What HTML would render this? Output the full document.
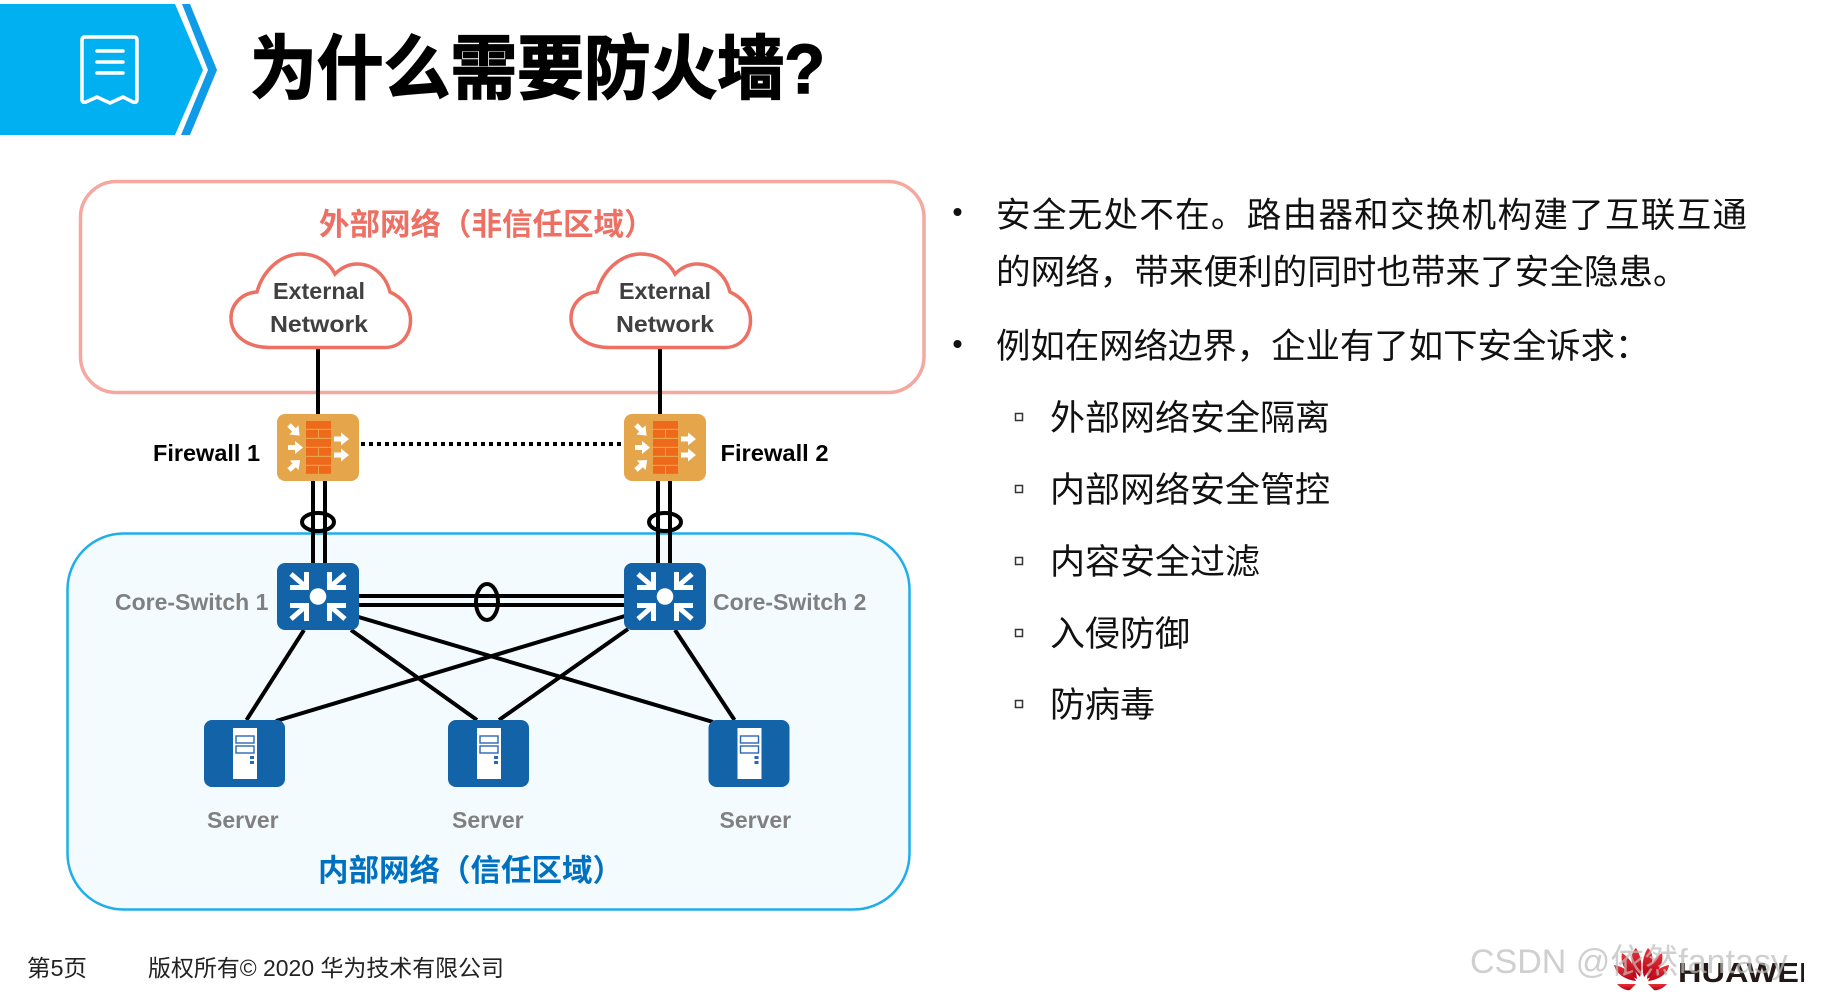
<!DOCTYPE html>
<html>
<head>
<meta charset="utf-8">
<style>
html,body{margin:0;padding:0;background:#fff;width:1827px;height:993px;overflow:hidden}
svg{display:block}
text{font-family:"Liberation Sans","Noto Sans CJK SC",sans-serif}
.cn{font-family:"Liberation Sans","Noto Sans CJK SC",sans-serif;font-size:34.6px;fill:#111}
.sb{font-family:"Liberation Sans","Noto Sans CJK SC",sans-serif;font-size:35px;fill:#111}
.lb{font-size:23px;font-weight:700}
</style>
</head>
<body>
<svg width="1827" height="993" viewBox="0 0 1827 993" xmlns="http://www.w3.org/2000/svg">
<defs>
<g id="arr"><path d="M0 0H8" stroke="#fff" stroke-width="5" fill="none"/><path d="M7 -6.500L15 0L7 6.500Z" fill="#fff"/></g>
<g id="fw">
<rect width="82" height="67" rx="8" fill="#E5A54A"/>
<g fill="#EE6A1A">
<rect x="29" y="7" width="25" height="7.800"/>
<rect x="29" y="16" width="12" height="7.800"/><rect x="42" y="16" width="12" height="7.800"/>
<rect x="29" y="25" width="25" height="7.800"/>
<rect x="29" y="34" width="12" height="7.800"/><rect x="42" y="34" width="12" height="7.800"/>
<rect x="29" y="43" width="25" height="7.800"/>
<rect x="29" y="52" width="12" height="7.800"/><rect x="42" y="52" width="12" height="7.800"/>
</g>
<use href="#arr" transform="translate(12,11) rotate(45)"/>
<use href="#arr" transform="translate(11,33.500)"/>
<use href="#arr" transform="translate(12,56) rotate(-42)"/>
<use href="#arr" transform="translate(57,25)"/>
<use href="#arr" transform="translate(57,41)"/>
</g>
<g id="corner" fill="none" stroke="#fff" stroke-width="5">
<path d="M13 24.500H29.500V9"/><path d="M14 11L29 24"/>
</g>
<g id="sw">
<rect width="82" height="67" rx="8" fill="#1363A9"/>
<circle cx="41" cy="33.500" r="8.300" fill="#fff"/>
<use href="#corner"/>
<use href="#corner" transform="translate(82,0) scale(-1,1)"/>
<use href="#corner" transform="translate(0,67) scale(1,-1)"/>
<use href="#corner" transform="translate(82,67) scale(-1,-1)"/>
</g>
<g id="srv">
<rect width="81" height="67" rx="8" fill="#1363A9"/>
<rect x="29" y="8" width="24" height="51" fill="#fff"/>
<rect x="32" y="16" width="18" height="7" fill="#fff" stroke="#2A66B8" stroke-width="1.400"/>
<rect x="32" y="26" width="18" height="7" fill="#fff" stroke="#2A66B8" stroke-width="1.400"/>
<rect x="46" y="36" width="4" height="3" fill="#2A66B8"/>
<rect x="46" y="41" width="4" height="3" fill="#2A66B8"/>
</g>
<path id="cloud" d="M270 347.500C245 347.500 231 334 231 318C231 305 241 293 257 292C263 270 281 254 301 254C317 254 329 262 335 274C342 267 349 264 357 264C374 264 386 276 390 292C403 298 410.500 308 410.500 320C410.500 336 400 347.500 385 347.500Z" fill="#fff" stroke="#EC7063" stroke-width="3.500"/>
<linearGradient id="red" x1="0" y1="0" x2="0" y2="1"><stop offset="0" stop-color="#E8323A"/><stop offset="1" stop-color="#B80012"/></linearGradient>
<clipPath id="hw"><rect x="1670" y="950" width="134" height="43"/></clipPath>
</defs>

<!-- header -->
<path d="M0 4H175L203 70L175 135H0Z" fill="#00B0F0"/>
<path d="M182 4H190L217 70L190 135H181L208 70Z" fill="#0F9BE8"/>
<path d="M85 37H134Q137 37 137 40V100Q137 103 133 102L123 97L110 103L97 97L86 102Q82 103 82 100V40Q82 37 85 37Z" fill="none" stroke="#fff" stroke-width="3.500" stroke-linejoin="round"/>
<path d="M97 51H123M97 62H123M97 73H123" stroke="#fff" stroke-width="3.500" stroke-linecap="round" fill="none"/>
<text x="250" y="93" font-size="70" font-weight="700" fill="#000" stroke="#000" stroke-width="1.600" textLength="575" lengthAdjust="spacingAndGlyphs">为什么需要防火墙?</text>

<!-- zones -->
<rect x="80.500" y="181.500" width="843.500" height="211" rx="36" fill="#fff" stroke="#F4A8A0" stroke-width="3.500"/>
<rect x="67.500" y="533.500" width="842" height="376" rx="56" fill="#F3FBFF" stroke="#1FAEE8" stroke-width="2.500"/>

<text x="319" y="235" font-size="30.500" font-weight="700" fill="#EC7063">外部网络&#xFF08;非信任区域&#xFF09;</text>
<text x="318" y="881" font-size="30.500" font-weight="700" fill="#0070C0">内部网络&#xFF08;信任区域&#xFF09;</text>

<!-- connectors -->
<g stroke="#000" stroke-width="4" fill="none">
<path d="M318 349V414M660 349V414"/>
<path d="M313 481V563M325 481V563M658 481V563M670 481V563"/>
<path d="M359 596H624M359 605H624"/>
<path d="M361 444H624" stroke-dasharray="4 4"/>
<ellipse cx="318" cy="522" rx="16" ry="9"/>
<ellipse cx="665" cy="522" rx="16" ry="9"/>
<ellipse cx="487" cy="602" rx="11" ry="18"/>
<path d="M304 630L246.500 720M351 630L477 720M358.500 617L713 722M625 616L276 721M628 629L499 720M675 630L734.500 720"/>
</g>

<!-- clouds -->
<use href="#cloud"/>
<use href="#cloud" transform="translate(340,0)"/>
<g fill="#404040" text-anchor="middle">
<text x="319" y="299" class="lb" textLength="92" lengthAdjust="spacingAndGlyphs">External</text>
<text x="319" y="332" class="lb" textLength="98" lengthAdjust="spacingAndGlyphs">Network</text>
<text x="665" y="299" class="lb" textLength="92" lengthAdjust="spacingAndGlyphs">External</text>
<text x="665" y="332" class="lb" textLength="98" lengthAdjust="spacingAndGlyphs">Network</text>
</g>

<!-- devices -->
<use href="#fw" x="277" y="414"/>
<use href="#fw" x="624" y="414"/>
<use href="#sw" x="277" y="563"/>
<use href="#sw" x="624" y="563"/>
<use href="#srv" x="204" y="720"/>
<use href="#srv" x="448" y="720"/>
<use href="#srv" x="708.500" y="720"/>

<g fill="#000">
<text x="153" y="461" class="lb" textLength="107" lengthAdjust="spacingAndGlyphs">Firewall 1</text>
<text x="720.500" y="461" class="lb" textLength="108" lengthAdjust="spacingAndGlyphs">Firewall 2</text>
</g>
<g fill="#808080">
<text x="115" y="610" class="lb">Core-Switch 1</text>
<text x="713" y="610" class="lb">Core-Switch 2</text>
<text x="207" y="828" class="lb">Server</text>
<text x="452" y="828" class="lb">Server</text>
<text x="719.500" y="828" class="lb">Server</text>
</g>

<!-- right text -->
<circle cx="957.500" cy="212" r="4" fill="#111"/>
<circle cx="957.500" cy="344" r="4" fill="#111"/>
<text x="996" y="227" class="cn" textLength="751">安全无处不在。路由器和交换机构建了互联互通</text>
<text x="996" y="284" class="cn">的网络&#xFF0C;带来便利的同时也带来了安全隐患。</text>
<text x="996" y="358" class="cn" style="font-size:34.4px">例如在网络边界&#xFF0C;企业有了如下安全诉求&#xFF1A;</text>
<g fill="#fff" stroke="#333" stroke-width="1.500">
<rect x="1015.500" y="413.500" width="7" height="7"/>
<rect x="1015.500" y="485.500" width="7" height="7"/>
<rect x="1015.500" y="557.500" width="7" height="7"/>
<rect x="1015.500" y="629.500" width="7" height="7"/>
<rect x="1015.500" y="700.500" width="7" height="7"/>
</g>
<text x="1050" y="430" class="sb">外部网络安全隔离</text>
<text x="1050" y="502" class="sb">内部网络安全管控</text>
<text x="1050" y="574" class="sb">内容安全过滤</text>
<text x="1050" y="646" class="sb">入侵防御</text>
<text x="1050" y="717" class="sb">防病毒</text>

<!-- footer -->
<text x="27" y="976" font-size="23" fill="#222" textLength="60" lengthAdjust="spacingAndGlyphs">第5页</text>
<text x="148" y="976" font-size="23" fill="#222" textLength="356" lengthAdjust="spacingAndGlyphs">版权所有© 2020 华为技术有限公司</text>

<!-- logo -->
<g fill="url(#red)">
<path d="M1640 977C1629 966 1630 953 1636 948C1641 955 1643 967 1640 977Z"/>
<path d="M1644 977C1655 966 1654 953 1648 948C1643 955 1641 967 1644 977Z"/>
<path d="M1637 979C1625 973 1620 963 1622 953C1630 958 1636 968 1637 979Z"/>
<path d="M1647 979C1659 973 1664 963 1662 953C1654 958 1648 968 1647 979Z"/>
<path d="M1636 981C1626 980 1616 974 1614 965C1622 966 1632 972 1636 981Z"/>
<path d="M1648 981C1658 980 1668 974 1669 965C1662 966 1652 972 1648 981Z"/>
<path d="M1636 984H1617C1620 988 1627 991 1630 990Z"/>
<path d="M1648 984H1667C1664 988 1657 991 1654 990Z"/>
</g>
<text x="1678" y="982" font-size="28" font-weight="700" fill="#231815" textLength="130" lengthAdjust="spacingAndGlyphs" clip-path="url(#hw)">HUAWEI</text>

<!-- watermark -->
<text x="1470" y="973" font-size="34" fill="#bdbdbd" fill-opacity="0.72">CSDN @依然fantasy</text>
</svg>
</body>
</html>
